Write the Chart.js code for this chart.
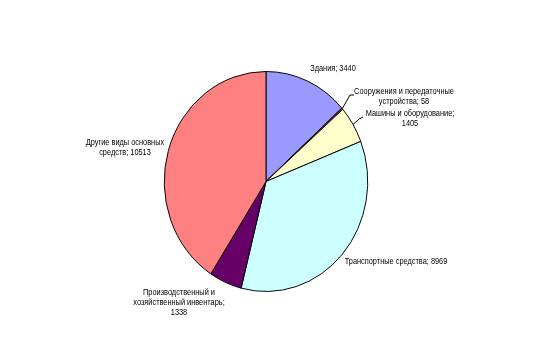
<!DOCTYPE html>
<html lang="ru">
<head>
  <meta charset="UTF-8">
  <title>Основные средства</title>
  <script src="https://cdn.jsdelivr.net/npm/chart.js"></script>
  <style>
    body {
      margin: 0;
      background: #fff;
      }
      .wrap {
      width: 534px;
      height: 362px;
      position: relative;
      }
 </style>
</head>
<body>
  <div class="wrap">
    <canvas id="pieChart"></canvas>
  </div>

  <script>
    // data
    let categories = [
      ["Здания; 3440"],
      ["Сооружения и передаточные", "устройства; 58"],
      ["Машины и оборудование;", "1405"],
      ["Транспортные средства; 8969"],
      ["Производственный и", "хозяйственный инвентарь;", "1338"],
      ["Другие виды основных", "средств; 10513"]
    ];
    let values = [3440, 58, 1405, 8969, 1338, 10513];
    let colors = ["#9999FF", "#993366", "#FFFFCC", "#CCFFFF", "#660066", "#FF8080"];

    // where each label sits (centre of first line) and optional leader end
    let labelLayout = [
      { x: 333, y: 69 },
      { x: 404, y: 92, leader: [350, 95, 354, 95] },
      { x: 410, y: 114, leader: [359, 119, 363, 117] },
      { x: 396, y: 262 },
      { x: 179, y: 293 },
      { x: 125, y: 143 }
    ];

    let squeeze = 0.925; // the pie in the picture is a bit taller than wide
    let textScale = 0.82;

    const squeezePie = {
      id: 'squeezePie',
      beforeDatasetsDraw(chart) {
        let a = chart.getDatasetMeta(0).data[0];
        let ctx = chart.ctx;
        ctx.save();
        ctx.translate(a.x, a.y);
        ctx.scale(squeeze, 1);
        ctx.translate(-a.x, -a.y);
      },
      afterDatasetsDraw(chart) {
        chart.ctx.restore();
      }
    };

    const pieLabels = {
      id: 'pieLabels',
      afterDraw(chart) {
        let ctx = chart.ctx;
        let arcs = chart.getDatasetMeta(0).data;
        ctx.save();
        ctx.fillStyle = '#000';
        ctx.strokeStyle = '#000';
        ctx.lineWidth = 1;
        ctx.font = '9px "Liberation Sans", Arial, sans-serif';
        ctx.textAlign = 'center';
        ctx.textBaseline = 'middle';
        categories.forEach((lines, i) => {
          let pos = labelLayout[i];
          lines.forEach((t, k) => {
            ctx.save();
            ctx.translate(pos.x, pos.y + k * 10);
            ctx.scale(textScale, 1);
            ctx.fillText(t, 0, 0);
            ctx.restore();
          });
          if (pos.leader) {
            let arc = arcs[i];
            let mid = (arc.startAngle + arc.endAngle) / 2;
            let ex = arc.x + Math.cos(mid) * arc.outerRadius * squeeze;
            let ey = arc.y + Math.sin(mid) * arc.outerRadius;
            let l = pos.leader;
            ctx.beginPath();
            ctx.moveTo(ex, ey);
            ctx.lineTo(l[0], l[1]);
            ctx.lineTo(l[2], l[3]);
            ctx.stroke();
          }
        });
        ctx.restore();
      }
    };

    let ctx = document.getElementById("pieChart").getContext("2d");
    let chart = new Chart(ctx, {
      type: 'pie',
      data: {
        labels: categories.map(c => c.join(' ')),
        datasets: [{
          data: values,
          backgroundColor: colors,
          borderColor: '#000',
          borderWidth: 1
        }]
      },
      options: {
        responsive: true,
        maintainAspectRatio: false,
        animation: false,
        layout: { padding: { top: 71, bottom: 70, left: 0, right: 2 } },
        plugins: {
          legend: { display: false },
          tooltip: { enabled: false }
        }
      },
      plugins: [squeezePie, pieLabels]
    });
 </script>
</body>
</html>
